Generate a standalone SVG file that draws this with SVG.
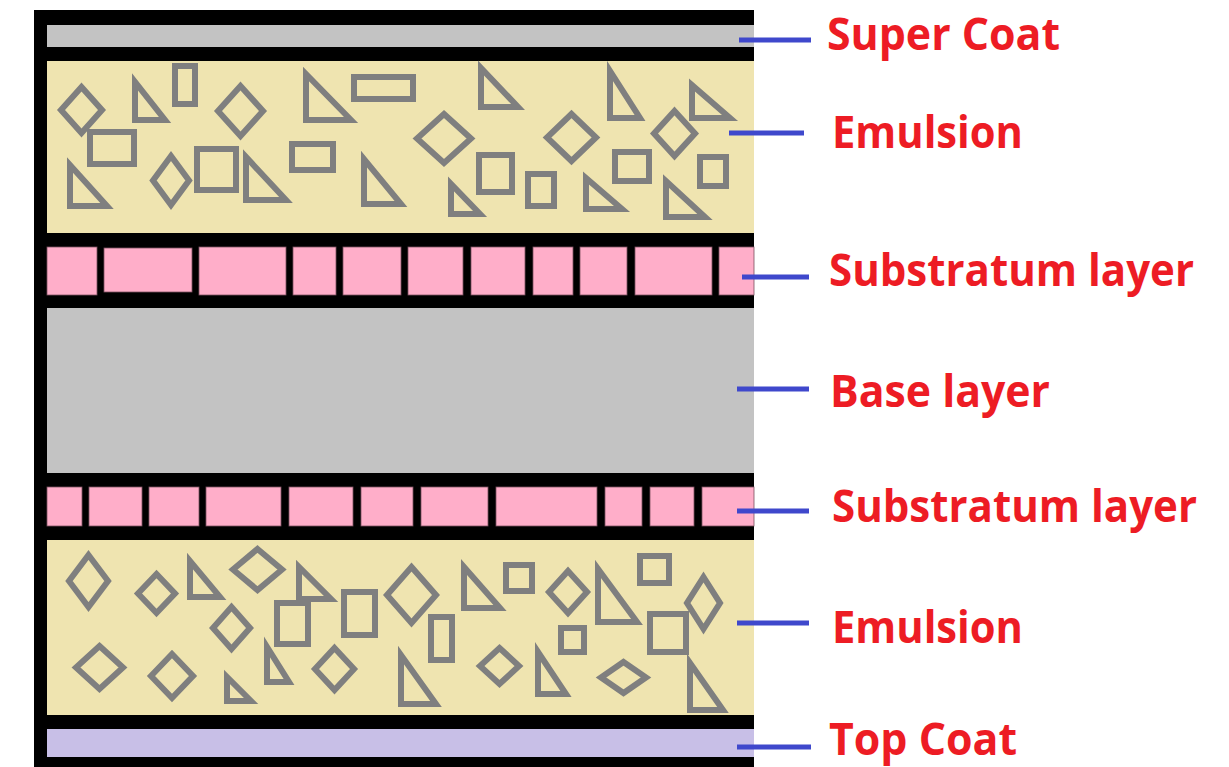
<svg xmlns="http://www.w3.org/2000/svg" width="1229" height="767" viewBox="0 0 1229 767">
<style>
.sh{fill:none;stroke:#7f7f7f;stroke-width:6;stroke-linejoin:miter}
.cell{fill:#ffaec9;stroke:#7a5060;stroke-width:0.8}
.lbl{font-family:"Open Sans","Liberation Sans",sans-serif;font-weight:700;font-size:45px;fill:#ed1c24}
.con{stroke:#3f48cc;stroke-width:5;fill:none}
</style>
<rect width="1229" height="767" fill="#ffffff"/>
<g id="frame"><rect x="34" y="10" width="720" height="757" fill="#000000"/></g>

<g id="super-coat"><rect x="47" y="25" width="707" height="22" fill="#c3c3c3"/></g>

<g id="emulsion-top">
<rect x="47" y="61" width="707" height="172" fill="#efe4b0"/>
<polygon class="sh" points="81.5,87 102,110 81.5,133 61,110"/>
<polygon class="sh" points="240.5,86 263,111 240.5,136 218,111"/>
<polygon class="sh" points="171,156 189,180.5 171,205 153,180.5"/>
<polygon class="sh" points="444,114 471,138.5 444,163 417,138.5"/>
<polygon class="sh" points="571.5,114 596,137.5 571.5,161 547,137.5"/>
<polygon class="sh" points="674.5,111 695,133.5 674.5,156 654,133.5"/>
<polygon class="sh" points="135,82 135,120 165,120"/>
<polygon class="sh" points="306,74 306,120 351,120"/>
<polygon class="sh" points="70,165 70,206 107,206"/>
<polygon class="sh" points="246,157 246,200 286,200"/>
<polygon class="sh" points="364,159 364,204 401,204"/>
<polygon class="sh" points="481,68 481,107 518,107"/>
<polygon class="sh" points="610,71 610,118 640,118"/>
<polygon class="sh" points="692,85 692,118 730,118"/>
<polygon class="sh" points="451,184 451,214 480,214"/>
<polygon class="sh" points="586,178 586,209 622,209"/>
<polygon class="sh" points="666,181 666,217 705,217"/>
<rect class="sh" x="175" y="66" width="20" height="38"/>
<rect class="sh" x="354" y="77" width="59" height="22"/>
<rect class="sh" x="90" y="132" width="44" height="32"/>
<rect class="sh" x="197" y="149" width="39" height="41"/>
<rect class="sh" x="292" y="144" width="41" height="26"/>
<rect class="sh" x="479" y="155" width="33" height="37"/>
<rect class="sh" x="528" y="174" width="26" height="32"/>
<rect class="sh" x="615" y="152" width="34" height="29"/>
<rect class="sh" x="700" y="157" width="26" height="29"/>
</g>

<g id="substratum-top">
<rect class="cell" x="47" y="247" width="50" height="48"/>
<rect class="cell" x="104" y="248" width="88" height="44"/>
<rect class="cell" x="199" y="247" width="87" height="48"/>
<rect class="cell" x="293" y="247" width="43" height="48"/>
<rect class="cell" x="343" y="247" width="58" height="48"/>
<rect class="cell" x="408" y="247" width="55" height="48"/>
<rect class="cell" x="471" y="247" width="54" height="48"/>
<rect class="cell" x="533" y="247" width="40" height="48"/>
<rect class="cell" x="580" y="247" width="47" height="48"/>
<rect class="cell" x="635" y="247" width="77" height="48"/>
<rect class="cell" x="719" y="247" width="35" height="48"/>
</g>

<g id="base-layer"><rect x="47" y="308" width="707" height="165" fill="#c3c3c3"/></g>

<g id="substratum-bottom">
<rect class="cell" x="47" y="487" width="35" height="39"/>
<rect class="cell" x="89" y="487" width="53" height="39"/>
<rect class="cell" x="149" y="487" width="50" height="39"/>
<rect class="cell" x="206" y="487" width="75" height="39"/>
<rect class="cell" x="289" y="487" width="64" height="39"/>
<rect class="cell" x="361" y="487" width="52" height="39"/>
<rect class="cell" x="421" y="487" width="67" height="39"/>
<rect class="cell" x="496" y="487" width="101" height="39"/>
<rect class="cell" x="605" y="487" width="37" height="39"/>
<rect class="cell" x="650" y="487" width="44" height="39"/>
<rect class="cell" x="702" y="487" width="52" height="39"/>
</g>

<g id="emulsion-bottom">
<rect x="47" y="540" width="707" height="175" fill="#efe4b0"/>
<polygon class="sh" points="88.5,555 108,581 88.5,607 69,581"/>
<polygon class="sh" points="156.5,574 175,593.5 156.5,613 138,593.5"/>
<polygon class="sh" points="257.5,549 282,569.5 257.5,590 233,569.5"/>
<polygon class="sh" points="231.5,607 250,628 231.5,649 213,628"/>
<polygon class="sh" points="411.5,567 436,595 411.5,623 387,595"/>
<polygon class="sh" points="99.5,646 123,667.5 99.5,689 76,667.5"/>
<polygon class="sh" points="172,654 193,676 172,698 151,676"/>
<polygon class="sh" points="334.5,648 354,669 334.5,690 315,669"/>
<polygon class="sh" points="568,571 587,592 568,613 549,592"/>
<polygon class="sh" points="703.5,577 720,603 703.5,629 687,603"/>
<polygon class="sh" points="499.5,648 519,666 499.5,684 480,666"/>
<polygon class="sh" points="623.5,662 646,677.5 623.5,693 601,677.5"/>
<polygon class="sh" points="190,561 190,597 220,597"/>
<polygon class="sh" points="299,567 299,599 331,599"/>
<polygon class="sh" points="227,677 227,701 251,701"/>
<polygon class="sh" points="267,647 267,682 289,682"/>
<polygon class="sh" points="401,655 401,704 436,704"/>
<polygon class="sh" points="464,567 464,608 500,608"/>
<polygon class="sh" points="598,569 598,622 637,622"/>
<polygon class="sh" points="538,652 538,694 566,694"/>
<polygon class="sh" points="690,663 690,710 723,710"/>
<rect class="sh" x="277" y="603" width="31" height="41"/>
<rect class="sh" x="344" y="592" width="31" height="43"/>
<rect class="sh" x="431" y="617" width="21" height="43"/>
<rect class="sh" x="506" y="565" width="26" height="26"/>
<rect class="sh" x="561" y="628" width="23" height="24"/>
<rect class="sh" x="640" y="556" width="29" height="27"/>
<rect class="sh" x="650" y="614" width="36" height="38"/>
</g>

<g id="top-coat"><rect x="47" y="729" width="707" height="28" fill="#c8bfe7"/></g>

<g id="connectors">
<line class="con" x1="739" y1="40" x2="811" y2="40"/>
<line class="con" x1="729" y1="133" x2="804" y2="133"/>
<line class="con" x1="742" y1="277" x2="809" y2="277"/>
<line class="con" x1="737" y1="389" x2="809" y2="389"/>
<line class="con" x1="737" y1="511" x2="809" y2="511"/>
<line class="con" x1="737" y1="623" x2="809" y2="623"/>
<line class="con" x1="737" y1="747" x2="811" y2="747"/>
</g>

<g id="labels">
<text class="lbl" x="827" y="50" textLength="233" lengthAdjust="spacingAndGlyphs">Super Coat</text>
<text class="lbl" x="832" y="148" textLength="191" lengthAdjust="spacingAndGlyphs">Emulsion</text>
<text class="lbl" x="829" y="286" textLength="365" lengthAdjust="spacingAndGlyphs">Substratum layer</text>
<text class="lbl" x="830" y="407" textLength="220" lengthAdjust="spacingAndGlyphs">Base layer</text>
<text class="lbl" x="832" y="522" textLength="365" lengthAdjust="spacingAndGlyphs">Substratum layer</text>
<text class="lbl" x="832" y="643" textLength="191" lengthAdjust="spacingAndGlyphs">Emulsion</text>
<text class="lbl" x="829" y="755" textLength="188" lengthAdjust="spacingAndGlyphs">Top Coat</text>
</g>
</svg>
